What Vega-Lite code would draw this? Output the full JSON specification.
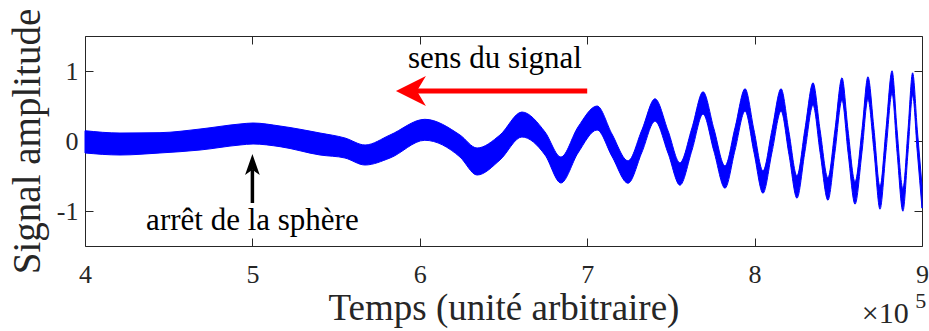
{
  "$schema": "https://vega.github.io/schema/vega-lite/v6.json",
  "autosize": {"type": "none"},
  "padding": {"left": 85, "top": 36, "right": 7, "bottom": 85},
  "width": 837,
  "height": 210,
  "background": "white",
  "config": {
    "view": {"stroke": "#262626", "strokeWidth": 1},
    "font": "Liberation Serif"
  },
  "datasets": {
    "signal": [
      {"t": 400000, "lo": -0.171, "hi": 0.147},
      {"t": 420900, "lo": -0.2, "hi": 0.114},
      {"t": 444800, "lo": -0.171, "hi": 0.119},
      {"t": 468700, "lo": -0.129, "hi": 0.171},
      {"t": 492600, "lo": -0.057, "hi": 0.243},
      {"t": 500400, "lo": -0.043, "hi": 0.257},
      {"t": 516500, "lo": -0.081, "hi": 0.214},
      {"t": 540400, "lo": -0.2, "hi": 0.114},
      {"t": 555300, "lo": -0.243, "hi": 0.043},
      {"t": 567300, "lo": -0.343, "hi": -0.057},
      {"t": 582200, "lo": -0.243, "hi": 0.086},
      {"t": 603000, "lo": 0.01, "hi": 0.31},
      {"t": 624000, "lo": -0.229, "hi": 0.086},
      {"t": 634200, "lo": -0.486, "hi": -0.1},
      {"t": 647900, "lo": -0.271, "hi": 0.086},
      {"t": 661000, "lo": 0.057, "hi": 0.414},
      {"t": 674800, "lo": -0.2, "hi": 0.129},
      {"t": 684300, "lo": -0.6, "hi": -0.229},
      {"t": 694500, "lo": -0.171, "hi": 0.2},
      {"t": 705900, "lo": 0.157, "hi": 0.5},
      {"t": 714800, "lo": -0.22, "hi": 0.1},
      {"t": 724400, "lo": -0.603, "hi": -0.283},
      {"t": 732700, "lo": -0.16, "hi": 0.16},
      {"t": 740500, "lo": 0.283, "hi": 0.603},
      {"t": 748300, "lo": -0.174, "hi": 0.146},
      {"t": 755400, "lo": -0.631, "hi": -0.311},
      {"t": 762600, "lo": -0.131, "hi": 0.189},
      {"t": 769200, "lo": 0.383, "hi": 0.703},
      {"t": 775700, "lo": -0.146, "hi": 0.174},
      {"t": 782300, "lo": -0.674, "hi": -0.354},
      {"t": 788300, "lo": -0.131, "hi": 0.189},
      {"t": 794300, "lo": 0.426, "hi": 0.746},
      {"t": 799600, "lo": -0.16, "hi": 0.16},
      {"t": 805000, "lo": -0.746, "hi": -0.426},
      {"t": 810400, "lo": -0.16, "hi": 0.16},
      {"t": 815800, "lo": 0.426, "hi": 0.746},
      {"t": 820500, "lo": -0.189, "hi": 0.131},
      {"t": 825300, "lo": -0.817, "hi": -0.497},
      {"t": 830100, "lo": -0.146, "hi": 0.174},
      {"t": 834900, "lo": 0.511, "hi": 0.831},
      {"t": 839100, "lo": -0.16, "hi": 0.16},
      {"t": 843800, "lo": -0.846, "hi": -0.526},
      {"t": 848000, "lo": -0.16, "hi": 0.16},
      {"t": 852200, "lo": 0.583, "hi": 0.903},
      {"t": 855800, "lo": -0.16, "hi": 0.16},
      {"t": 860000, "lo": -0.903, "hi": -0.583},
      {"t": 864200, "lo": -0.146, "hi": 0.174},
      {"t": 867700, "lo": 0.597, "hi": 0.917},
      {"t": 871300, "lo": -0.146, "hi": 0.174},
      {"t": 874900, "lo": -0.974, "hi": -0.654},
      {"t": 878500, "lo": -0.146, "hi": 0.174},
      {"t": 882100, "lo": 0.683, "hi": 1.003},
      {"t": 885100, "lo": -0.16, "hi": 0.16},
      {"t": 888600, "lo": -1.003, "hi": -0.683},
      {"t": 891600, "lo": -0.174, "hi": 0.146},
      {"t": 894400, "lo": 0.654, "hi": 0.974},
      {"t": 897200, "lo": -0.16, "hi": 0.16},
      {"t": 900000, "lo": -0.96, "hi": -0.64}
    ],
    "redArrow": [{"t": 700000, "t2": 598300, "v": 0.714, "th": 594700}],
    "blackArrow": [{"t": 500000, "v": -0.886, "v2": -0.41, "vh": -0.336}],
    "notes": [
      {"t": 644900, "v": 1.04, "label": "sens du signal"},
      {"t": 500000, "v": -1.271, "label": "arrêt de la sphère"}
    ],
    "mult": [{"t": 864000, "v": -2.6, "label": "×10"}],
    "expo": [{"t": 896000, "v": -2.39, "label": "5"}]
  },
  "layer": [
    {
      "data": {"name": "signal"},
      "mark": {"type": "area", "interpolate": "monotone", "color": "#0000ff", "stroke": "#0000ff", "strokeWidth": 1},
      "encoding": {
        "x": {
          "field": "t", "type": "quantitative",
          "scale": {"domain": [400000, 900000], "nice": false, "zero": false},
          "axis": {
            "orient": "bottom",
            "values": [400000, 500000, 600000, 700000, 800000, 900000],
            "labelExpr": "'' + (datum.value / 100000)",
            "title": "Temps (unité arbitraire)",
            "domain": false, "grid": false,
            "tickSize": -8, "tickColor": "#262626", "tickWidth": 1,
            "labelFont": "Liberation Serif", "labelFontSize": 26, "labelColor": "#262626",
            "labelPadding": 23, "labelFlush": false, "labelOverlap": false,
            "titleFont": "Liberation Serif", "titleFontSize": 37, "titleFontWeight": "normal", "titleColor": "#262626",
            "titlePadding": 3
          }
        },
        "y": {
          "field": "lo", "type": "quantitative",
          "scale": {"domain": [-1.5, 1.5], "nice": false, "zero": false},
          "axis": {
            "orient": "left",
            "values": [-1, 0, 1],
            "labelExpr": "'' + datum.value",
            "title": "Signal amplitude",
            "domain": false, "grid": false,
            "tickSize": -8, "tickColor": "#262626", "tickWidth": 1,
            "labelFont": "Liberation Serif", "labelFontSize": 26, "labelColor": "#262626",
            "labelPadding": 15, "labelOverlap": false,
            "titleFont": "Liberation Serif", "titleFontSize": 39, "titleFontWeight": "normal", "titleColor": "#262626",
            "titlePadding": 9
          }
        },
        "y2": {"field": "hi"}
      }
    },
    {
      "data": {"name": "redArrow"},
      "mark": {"type": "rule", "color": "#ff0000", "strokeWidth": 5},
      "encoding": {
        "x": {
          "field": "t", "type": "quantitative",
          "axis": {
            "orient": "top",
            "values": [400000, 500000, 600000, 700000, 800000, 900000],
            "labels": false, "title": null, "domain": false, "grid": false,
            "tickSize": -8, "tickColor": "#262626", "tickWidth": 1
          }
        },
        "x2": {"field": "t2"},
        "y": {
          "field": "v", "type": "quantitative",
          "axis": {
            "orient": "right",
            "values": [-1, 0, 1],
            "labels": false, "title": null, "domain": false, "grid": false,
            "tickSize": -8, "tickColor": "#262626", "tickWidth": 1
          }
        }
      }
    },
    {
      "data": {"name": "redArrow"},
      "mark": {"type": "point", "shape": "M -1 0 L 1 -1 L 0.4 0 L 1 1 Z", "size": 900, "filled": true, "color": "#ff0000", "opacity": 1, "strokeWidth": 0},
      "encoding": {
        "x": {"field": "th", "type": "quantitative", "axis": null},
        "y": {"field": "v", "type": "quantitative", "axis": null}
      }
    },
    {
      "data": {"name": "blackArrow"},
      "mark": {"type": "rule", "color": "#000000", "strokeWidth": 3.5},
      "encoding": {
        "x": {"field": "t", "type": "quantitative", "axis": null},
        "y": {"field": "v", "type": "quantitative", "axis": null},
        "y2": {"field": "v2"}
      }
    },
    {
      "data": {"name": "blackArrow"},
      "mark": {"type": "point", "shape": "M 0 -1 L 0.7 1 L 0 0.5 L -0.7 1 Z", "size": 441, "filled": true, "color": "#000000", "opacity": 1, "strokeWidth": 0},
      "encoding": {
        "x": {"field": "t", "type": "quantitative", "axis": null},
        "y": {"field": "vh", "type": "quantitative", "axis": null}
      }
    },
    {
      "data": {"name": "notes"},
      "mark": {"type": "text", "font": "Liberation Serif", "fontSize": 31, "align": "center", "baseline": "alphabetic", "color": "#000000"},
      "encoding": {
        "x": {"field": "t", "type": "quantitative", "axis": null},
        "y": {"field": "v", "type": "quantitative", "axis": null},
        "text": {"field": "label"}
      }
    },
    {
      "data": {"name": "mult"},
      "mark": {"type": "text", "font": "Liberation Serif", "fontSize": 30, "align": "left", "baseline": "alphabetic", "color": "#262626"},
      "encoding": {
        "x": {"field": "t", "type": "quantitative", "axis": null},
        "y": {"field": "v", "type": "quantitative", "axis": null},
        "text": {"field": "label"}
      }
    },
    {
      "data": {"name": "expo"},
      "mark": {"type": "text", "font": "Liberation Serif", "fontSize": 22, "align": "left", "baseline": "alphabetic", "color": "#262626"},
      "encoding": {
        "x": {"field": "t", "type": "quantitative", "axis": null},
        "y": {"field": "v", "type": "quantitative", "axis": null},
        "text": {"field": "label"}
      }
    }
  ]
}
